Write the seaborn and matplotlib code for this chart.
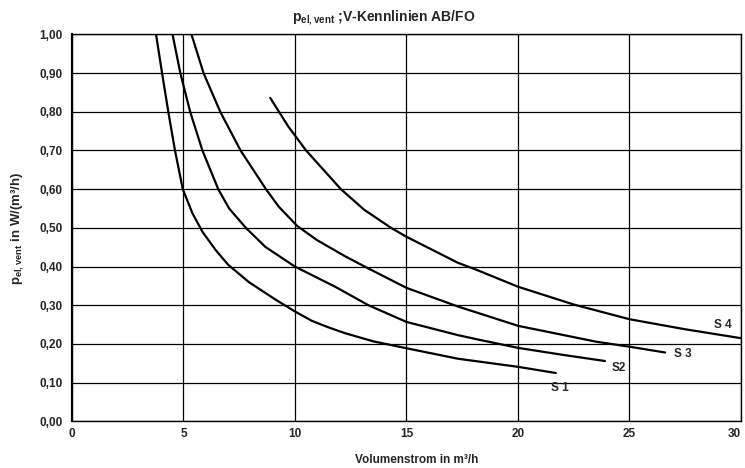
import pandas as pd
import matplotlib
matplotlib.use('Agg')
import matplotlib.pyplot as plt
import seaborn as sns

# curve points (Volumenstrom, p_el,vent)
s1_x = [3.77, 4.04, 4.32, 4.62, 4.97, 5.4, 5.85, 6.44, 7.0, 7.93, 9.12, 10.0, 10.75, 11.5, 12.24, 13.5, 15.0, 17.3, 20.0, 21.7]
s1_y = [1.00, 0.90, 0.80, 0.70, 0.60, 0.538, 0.49, 0.443, 0.405, 0.36, 0.315, 0.284, 0.26, 0.243, 0.228, 0.207, 0.189, 0.162, 0.141, 0.125]
s2_x = [4.51, 4.86, 5.3, 5.85, 6.56, 7.05, 7.8, 8.67, 10.0, 11.8, 13.3, 15.0, 17.3, 18.17, 20.0, 22.0, 23.9]
s2_y = [1.00, 0.90, 0.80, 0.70, 0.60, 0.55, 0.50, 0.451, 0.40, 0.348, 0.30, 0.257, 0.223, 0.212, 0.19, 0.172, 0.156]
s3_x = [5.36, 5.9, 6.65, 7.56, 8.7, 9.27, 10.1, 11.0, 12.3, 13.13, 15.0, 17.3, 20.0, 23.5, 25.0, 26.6]
s3_y = [1.00, 0.90, 0.80, 0.70, 0.60, 0.555, 0.505, 0.468, 0.425, 0.40, 0.345, 0.297, 0.247, 0.206, 0.193, 0.178]
s4_x = [8.89, 9.7, 10.5, 12.06, 13.1, 14.31, 15.0, 17.3, 18.17, 20.0, 22.5, 25.0, 27.5, 30.0]
s4_y = [0.836, 0.762, 0.70, 0.60, 0.547, 0.50, 0.477, 0.41, 0.391, 0.348, 0.302, 0.264, 0.238, 0.215]

labels = ['S 1', 'S2', 'S 3', 'S 4']
label_x = [21.9, 24.5, 27.4, 29.2]
label_y = [0.086, 0.138, 0.174, 0.249]

x_ticks = [0, 5, 10, 15, 20, 25, 30]
y_ticks = [0.0, 0.1, 0.2, 0.3, 0.4, 0.5, 0.6, 0.7, 0.8, 0.9, 1.0]

frames = []
for name, xs, ys in zip(['S1', 'S2', 'S3', 'S4'], [s1_x, s2_x, s3_x, s4_x], [s1_y, s2_y, s3_y, s4_y]):
    frames.append(pd.DataFrame({'Volumenstrom': xs, 'p': ys, 'Stufe': name}))
data = pd.concat(frames, ignore_index=True)

sns.set_style('white')
plt.rcParams['font.family'] = ['Liberation Sans', 'DejaVu Sans']
plt.rcParams['font.weight'] = 'bold'
plt.rcParams['mathtext.default'] = 'regular'

fig = plt.figure(figsize=(7.45, 4.68), dpi=100)
ax = fig.add_axes([0.0966, 0.0996, 0.8980, 0.8269])

sns.lineplot(data=data, x='Volumenstrom', y='p', hue='Stufe', units='Stufe', estimator=None,
             sort=False, palette=['black'] * 4, linewidth=1.6, legend=False, ax=ax)

for t, lx, ly in zip(labels, label_x, label_y):
    ax.text(lx, ly, t, ha='center', va='center', fontsize=8.5, fontweight='bold')

ax.set_xlim(0, 30)
ax.set_ylim(0, 1.0)
ax.set_xticks(x_ticks)
ax.set_yticks(y_ticks)
ax.set_xticklabels([str(v) for v in x_ticks])
ax.set_yticklabels([f'{v:.2f}'.replace('.', ',') for v in y_ticks])
ax.tick_params(axis='both', labelsize=8.5, length=3, width=0.8, color='black', direction='out')
ax.tick_params(axis='x', length=0, pad=5)
for lab in ax.get_xticklabels() + ax.get_yticklabels():
    lab.set_fontweight('bold')
# last x label sits at the figure edge, keep it inside
ax.get_xticklabels()[-1].set_horizontalalignment('right')

ax.grid(True, color='black', linewidth=0.9)
for side in ['left', 'bottom', 'right', 'top']:
    ax.spines[side].set_color('black')
    ax.spines[side].set_linewidth(1.0)
ax.spines['left'].set_linewidth(1.6)

ax.set_xlabel('Volumenstrom in m³/h', fontsize=8.5, fontweight='bold', labelpad=8)
ax.xaxis.set_label_coords(0.515, -0.085)
ax.set_ylabel(r'p$_{el,vent}$ in W/(m³/h)', fontsize=9.5, fontweight='bold', labelpad=10)

fig.text(384 / 745, 1 - 18 / 468, r'p$_{el,vent}$ ;V-Kennlinien AB/FO', ha='center', va='center',
         fontsize=10, fontweight='bold')

fig.savefig('out.png', dpi=100)
